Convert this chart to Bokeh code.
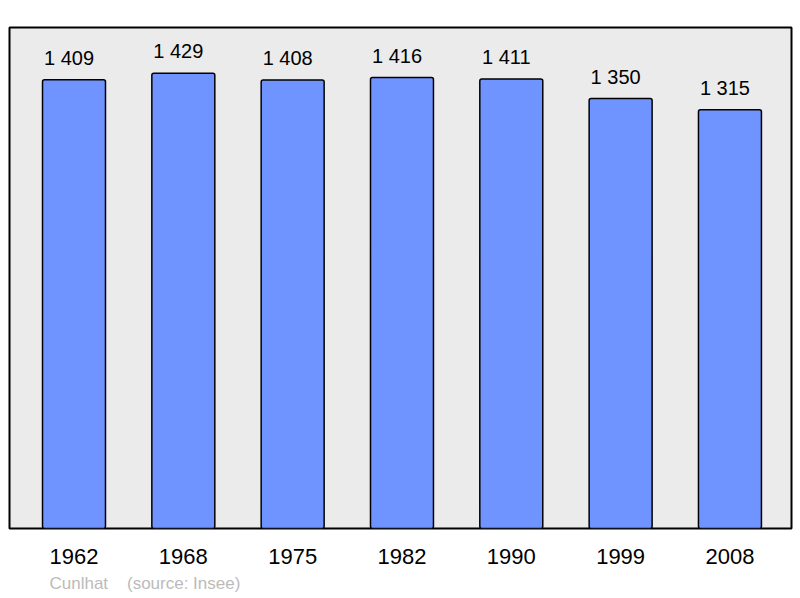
from bokeh.plotting import figure
from bokeh.models import ColumnDataSource, Range1d, FixedTicker, Title
from bokeh.core.properties import value
from bokeh.embed import file_html
from bokeh.resources import INLINE

years = ["1962", "1968", "1975", "1982", "1990", "1999", "2008"]
population = [1409, 1429, 1408, 1416, 1411, 1350, 1315]
value_labels = ["1 409", "1 429", "1 408", "1 416", "1 411", "1 350", "1 315"]
place = "Cunlhat"
source_note = "(source: Insee)"

FONT = "Liberation Sans"

src = ColumnDataSource(dict(
    x=list(range(len(years))),
    pop=population,
    lab=value_labels,
))

p = figure(width=800, height=598, output_backend="svg", toolbar_location=None,
           x_range=Range1d(-0.59, 6.563), y_range=Range1d(0, 1573),
           min_border_left=9, min_border_right=9, min_border_top=27, min_border_bottom=70)

p.background_fill_color = "#ebebeb"
p.border_fill_color = "white"
p.outline_line_color = "black"
p.outline_line_width = 2
p.grid.visible = False
p.yaxis.visible = False

p.vbar(x="x", top="pop", bottom=0, width=0.576, source=src,
       fill_color="#7094ff", line_color="black", line_width=1.5, border_radius=2)

p.text(x="x", y="pop", text="lab", source=src, x_offset=-5, y_offset=-22,
       text_align="center", text_baseline="alphabetic",
       text_font=value(FONT), text_font_size="20px", text_color="black")

ax = p.xaxis[0]
ax.ticker = FixedTicker(ticks=list(range(len(years))))
ax.major_label_overrides = {i: y for i, y in enumerate(years)}
ax.axis_line_color = None
ax.major_tick_line_color = None
ax.minor_tick_line_color = None
ax.major_label_text_font = FONT
ax.major_label_text_font_size = "22px"
ax.major_label_text_color = "black"
ax.major_label_standoff = 14

footer = place + "\u00a0\u00a0\u00a0\u00a0" + source_note
p.add_layout(Title(text=footer, align="left", offset=40, standoff=11,
                   text_font=FONT, text_font_size="17px", text_color="#bbbbbb",
                   text_font_style="normal"), "below")

open("out.html", "w").write(file_html(p, INLINE))
